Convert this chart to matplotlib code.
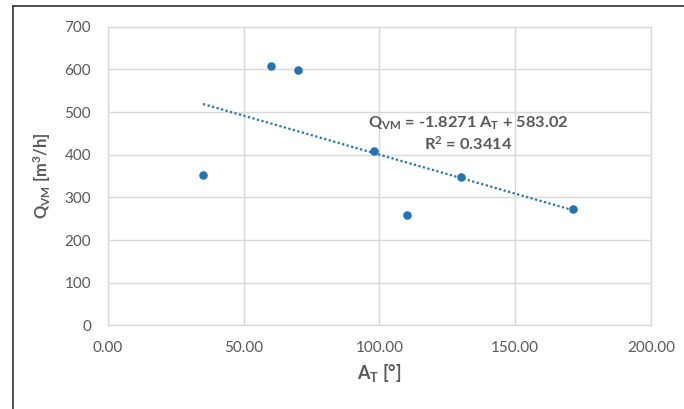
import numpy as np
import matplotlib.pyplot as plt
from matplotlib.lines import Line2D

plt.rcParams['font.family'] = ['Lato', 'DejaVu Sans']
# all math pieces on this chart are in bold labels
plt.rcParams['mathtext.fontset'] = 'custom'
plt.rcParams['mathtext.rm'] = 'Lato:bold'
plt.rcParams['mathtext.default'] = 'rm'

# data
a_t = [35.1, 60.0, 70.0, 98.2, 110.2, 130.1, 171.2]
q_vm = [352.5, 608.6, 599.2, 408.8, 258.8, 347.9, 272.9]

# trendline as printed on the chart
slope = -1.8271
intercept = 583.02
r2 = 0.3414

x_ticks = [0, 50, 100, 150, 200]
y_ticks = [0, 100, 200, 300, 400, 500, 600, 700]

blue = '#2474b5'
grey_txt = '#595959'
grid_col = '#d9d9d9'

fig = plt.figure(figsize=(6.84, 4.09), dpi=100)
ax = fig.add_axes([0.1575, 0.2042, 0.7943, 0.7305])

ax.scatter(a_t, q_vm, s=38, color=blue, zorder=3, linewidths=0)

xs = np.array([min(a_t), max(a_t)])
ax.plot(xs, slope * xs + intercept, color=blue, lw=1.6,
        linestyle=(0, (1, 1.1)), zorder=2)

ax.text(132.6, 449,
        'Q$_{VM}$ = %.4f A$_{T}$ + %.2f\nR$^{2}$ = %.4f' % (slope, intercept, r2),
        ha='center', va='center', multialignment='center',
        fontsize=11.8, fontweight='bold', color=grey_txt, zorder=4)

ax.set_xlim(0, 200)
ax.set_ylim(0, 700)
ax.set_xticks(x_ticks)
ax.set_yticks(y_ticks)
ax.set_xticklabels(['%.2f' % v for v in x_ticks])
ax.tick_params(length=0, labelsize=11, labelcolor=grey_txt)
ax.tick_params(axis='x', pad=11)
ax.tick_params(axis='y', pad=12)
ax.grid(True, color=grid_col, lw=1)
ax.set_axisbelow(True)
for sp in ax.spines.values():
    sp.set_color(grid_col)
    sp.set_linewidth(1)

ax.set_xlabel('A$_{T}$ [°]', fontsize=13, fontweight='bold', color=grey_txt,
              labelpad=5)
ax.set_ylabel('Q$_{VM}$ [m$^{3}$/h]', fontsize=12, fontweight='bold',
              color=grey_txt, labelpad=8)

# outer frame lines (top and left)
fig.add_artist(Line2D([13 / 684, 1], [1 - 6.3 / 409, 1 - 6.3 / 409],
                      color='#333333', lw=1.2, transform=fig.transFigure))
fig.add_artist(Line2D([13 / 684, 13 / 684], [0, 1 - 6.3 / 409],
                      color='#333333', lw=1.2, transform=fig.transFigure))

fig.savefig('out.png', dpi=100)
